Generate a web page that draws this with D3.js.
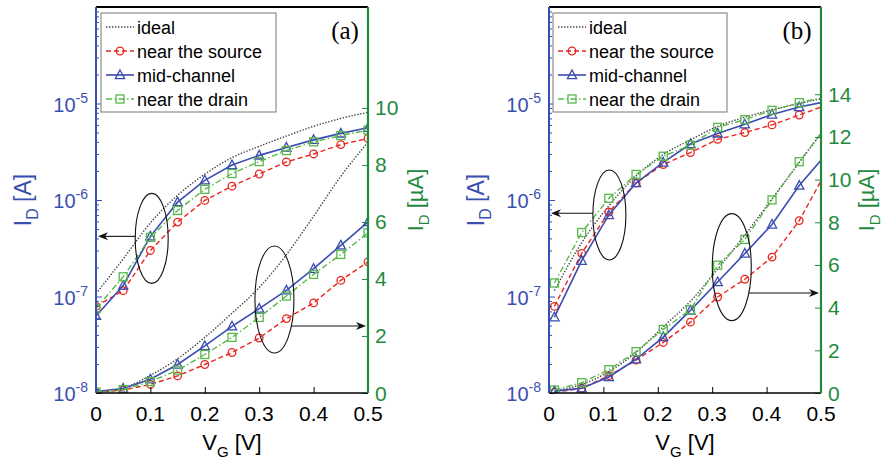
<!DOCTYPE html>
<html><head><meta charset="utf-8">
<script src="https://cdn.jsdelivr.net/npm/d3@7"></script>
<style>body{margin:0;background:#fff}</style>
</head><body>
<svg id="c" width="887" height="461"></svg>
<script>
// ---------------- DATA ----------------
const vgA = [0, 0.05, 0.1, 0.15, 0.2, 0.25, 0.3, 0.35, 0.4, 0.45, 0.5];
const vgB = [0.01, 0.06, 0.11, 0.16, 0.21, 0.26, 0.31, 0.36, 0.41, 0.46, 0.51];

// panel (a) – log scale, I_D in A
const aIdealLog  = [1.07e-7, 2.45e-7, 5.8e-7, 1.12e-6, 1.85e-6, 2.75e-6, 3.6e-6, 4.6e-6, 5.8e-6, 7.0e-6, 8.1e-6];
const aSourceLog = [7.9e-8, 1.15e-7, 3.0e-7, 5.9e-7, 9.9e-7, 1.39e-6, 1.86e-6, 2.48e-6, 3.0e-6, 3.75e-6, 4.35e-6];
const aMidLog    = [6.3e-8, 1.3e-7, 4.2e-7, 9.5e-7, 1.6e-6, 2.3e-6, 2.9e-6, 3.5e-6, 4.2e-6, 4.9e-6, 5.6e-6];
const aDrainLog  = [7.5e-8, 1.6e-7, 4.1e-7, 7.8e-7, 1.29e-6, 1.88e-6, 2.5e-6, 3.25e-6, 4.0e-6, 4.65e-6, 5.3e-6];
// panel (a) – linear scale, I_D in uA
const aIdealLin  = [0.03, 0.17, 0.62, 1.2, 1.95, 2.8, 3.7, 4.85, 6.2, 7.6, 8.8];
const aSourceLin = [0.03, 0.1, 0.3, 0.6, 1.0, 1.42, 1.93, 2.61, 3.16, 3.95, 4.6];
const aMidLin    = [0.05, 0.16, 0.48, 1.0, 1.65, 2.34, 2.96, 3.6, 4.36, 5.18, 6.0];
const aDrainLin  = [0.03, 0.12, 0.4, 0.8, 1.35, 1.95, 2.65, 3.4, 4.16, 4.86, 5.62];

// panel (b) – log scale, I_D in A
const bIdealLog  = [1.15e-7, 3.6e-7, 8.7e-7, 1.77e-6, 2.96e-6, 4.2e-6, 5.8e-6, 7.2e-6, 8.6e-6, 1.0e-5, 1.15e-5];
const bSourceLog = [7.9e-8, 2.8e-7, 7.5e-7, 1.5e-6, 2.33e-6, 3.1e-6, 4.25e-6, 5.0e-6, 6.0e-6, 7.6e-6, 9.6e-6];
const bMidLog    = [6.1e-8, 2.35e-7, 7.0e-7, 1.5e-6, 2.45e-6, 3.8e-6, 4.9e-6, 6.1e-6, 7.7e-6, 9.2e-6, 1.05e-5];
const bDrainLog  = [1.38e-7, 4.6e-7, 1.04e-6, 1.84e-6, 2.84e-6, 3.7e-6, 5.66e-6, 6.8e-6, 8.5e-6, 1.02e-5, 1.17e-5];
// panel (b) – linear scale, I_D in uA
const bIdealLin  = [0.1, 0.4, 1.0, 1.9, 3.1, 4.3, 5.8, 7.4, 9.1, 10.8, 12.5];
const bSourceLin = [0.03, 0.22, 0.81, 1.54, 2.37, 3.32, 4.5, 5.33, 6.37, 8.08, 10.4];
const bMidLin    = [0.09, 0.22, 0.75, 1.58, 2.62, 3.87, 5.2, 6.54, 7.9, 9.72, 11.2];
const bDrainLin  = [0.14, 0.48, 1.09, 1.94, 2.98, 3.9, 5.99, 7.2, 9.05, 10.84, 12.5];

const seriesNames = ["ideal", "near the source", "mid-channel", "near the drain"];
const xTicks = [0, 0.1, 0.2, 0.3, 0.4, 0.5];
const logTickExps = [-8, -7, -6, -5];
const linTicksA = [0, 2, 4, 6, 8, 10];
const linTicksB = [0, 2, 4, 6, 8, 10, 12, 14];
const panelTags = ["(a)", "(b)"];
// annotation ellipses (centre in data units: V_G, and I_D on log [A] or lin [uA] axis)
const annotA = [
  {v: 0.1024, val: 4.0e-7, axis: "log", arrowVal: 4.2e-7, dir: "left"},
  {v: 0.328, val: 3.28, axis: "lin", arrowVal: 2.35, dir: "right"}
];
const annotB = [
  {v: 0.111, val: 7.0e-7, axis: "log", arrowVal: 7.3e-7, dir: "left"},
  {v: 0.336, val: 5.9, axis: "lin", arrowVal: 4.69, dir: "right"}
];

// ---------------- STYLE ----------------
const FONT = "'Liberation Sans', Arial, Helvetica, sans-serif";
const BLUE_AX = "#3a4fb0", GREEN_AX = "#1f8a3e";
const styles = [
  {color: "#444444", dash: "1.4,1.6", marker: null, width: 1.4},
  {color: "#e8261f", dash: "5,3", marker: "circle", width: 1.4},
  {color: "#3a4cb0", dash: null, marker: "triangle", width: 1.6},
  {color: "#58b84a", dash: "6,2.5,1.5,2.5", marker: "square", width: 1.4}
];
const ellSize = [{rx: 16.5, ry: 45}, {rx: 19.5, ry: 53.5}];

const panels = [
  {left: 96, right: 368, top: 7, bottom: 393, vg: vgA, linMax: 13.54, linTicks: linTicksA,
   log: [aIdealLog, aSourceLog, aMidLog, aDrainLog], lin: [aIdealLin, aSourceLin, aMidLin, aDrainLin],
   legend: {x: 101, y: 13, w: 175, h: 99}, tagX: 345, yLabL: 31, yLabR: 423, annot: annotA},
  {left: 549, right: 821, top: 7, bottom: 393, vg: vgB, linMax: 18.09, linTicks: linTicksB,
   log: [bIdealLog, bSourceLog, bMidLog, bDrainLog], lin: [bIdealLin, bSourceLin, bMidLin, bDrainLin],
   legend: {x: 553, y: 13, w: 174, h: 99}, tagX: 797, yLabL: 484, yLabR: 874, annot: annotB}
];

const svg = d3.select("#c");
const defs = svg.append("defs");

function marker(g, type, cx, cy, color) {
  if (type === "circle") {
    g.append("circle").attr("cx", cx).attr("cy", cy).attr("r", 3.8)
      .attr("fill", "none").attr("stroke", color).attr("stroke-width", 1.3);
  } else if (type === "triangle") {
    g.append("path").attr("d", `M${cx},${cy - 5}L${cx + 4.6},${cy + 3.6}L${cx - 4.6},${cy + 3.6}Z`)
      .attr("fill", "none").attr("stroke", color).attr("stroke-width", 1.3);
  } else if (type === "square") {
    g.append("rect").attr("x", cx - 4).attr("y", cy - 4).attr("width", 8).attr("height", 8)
      .attr("fill", "none").attr("stroke", color).attr("stroke-width", 1.3);
  }
}

panels.forEach((p, idx) => {
  const x = d3.scaleLinear().domain([0, 0.5]).range([p.left, p.right]);
  const yL = d3.scaleLog().domain([1e-8, 1e-4]).range([p.bottom, p.top]);
  const yR = d3.scaleLinear().domain([0, p.linMax]).range([p.bottom, p.top]);
  const g = svg.append("g");

  const clipId = "clip" + idx;
  defs.append("clipPath").attr("id", clipId).append("rect")
    .attr("x", p.left).attr("y", p.top).attr("width", p.right - p.left).attr("height", p.bottom - p.top);
  const plot = g.append("g").attr("clip-path", `url(#${clipId})`);

  // series
  styles.forEach((st, i) => {
    [[p.log[i], yL], [p.lin[i], yR]].forEach(([vals, ys]) => {
      const pts = p.vg.map((v, j) => [x(v), ys(vals[j])]);
      const line = d3.line().curve(i === 0 ? d3.curveMonotoneX : d3.curveLinear);
      plot.append("path").attr("d", line(pts)).attr("fill", "none")
        .attr("stroke", st.color).attr("stroke-width", st.width)
        .attr("stroke-dasharray", st.dash);
      if (st.marker) pts.forEach(pt => marker(plot, st.marker, pt[0], pt[1], st.color));
    });
  });

  // ellipses and arrows
  p.annot.forEach((a, k) => {
    const ys = a.axis === "log" ? yL : yR;
    const cx = x(a.v), cy = ys(a.val);
    const {rx, ry} = ellSize[k];
    g.append("ellipse").attr("cx", cx).attr("cy", cy).attr("rx", rx).attr("ry", ry)
      .attr("fill", "none").attr("stroke", "#111").attr("stroke-width", 1.1);
    const ay = ys(a.arrowVal);
    const dx = rx * Math.sqrt(Math.max(0, 1 - ((ay - cy) / ry) ** 2));
    let x0, x1;
    if (a.dir === "left") { x0 = cx - dx; x1 = x(0) + 2; }
    else { x0 = cx + dx; x1 = x(0.5) - 2; }
    const s = a.dir === "left" ? 1 : -1;
    g.append("line").attr("x1", x0).attr("y1", ay).attr("x2", x1 + s * 6).attr("y2", ay)
      .attr("stroke", "#111").attr("stroke-width", 1.1);
    g.append("path").attr("d", `M${x1},${ay}L${x1 + s * 10},${ay - 4}L${x1 + s * 7},${ay}L${x1 + s * 10},${ay + 4}Z`)
      .attr("fill", "#111");
  });

  // axes – left log (blue)
  const minor = [];
  for (let e = -8; e < -4; e++) for (let m = 2; m <= 9; m++) minor.push(m * Math.pow(10, e));
  g.append("g").attr("transform", `translate(${p.left},0)`)
    .call(d3.axisRight(yL).tickValues(minor).tickSize(3).tickFormat(""))
    .call(s => s.select(".domain").remove())
    .selectAll("line").attr("stroke", BLUE_AX).attr("stroke-width", 1);
  g.append("g").attr("transform", `translate(${p.left},0)`)
    .call(d3.axisRight(yL).tickValues(logTickExps.map(e => Math.pow(10, e))).tickSize(6).tickFormat(""))
    .call(s => s.select(".domain").remove())
    .selectAll("line").attr("stroke", BLUE_AX).attr("stroke-width", 1);
  logTickExps.forEach(e => {
    const t = g.append("text").attr("x", p.left - 8).attr("y", yL(Math.pow(10, e)) + 8)
      .attr("text-anchor", "end").attr("font-family", FONT).attr("font-size", 20).attr("fill", BLUE_AX);
    t.append("tspan").text("10");
    t.append("tspan").attr("dy", -9).attr("font-size", 14).text("-" + Math.abs(e));
  });

  // right linear (green)
  g.append("g").attr("transform", `translate(${p.right},0)`)
    .call(d3.axisLeft(yR).tickValues(p.linTicks).tickSize(6).tickFormat(""))
    .call(s => s.select(".domain").remove())
    .selectAll("line").attr("stroke", GREEN_AX).attr("stroke-width", 1);
  p.linTicks.forEach(v => {
    g.append("text").attr("x", p.right + 7).attr("y", yR(v) + 7.5)
      .attr("font-family", FONT).attr("font-size", 21).attr("fill", GREEN_AX).text(v);
  });

  // bottom (black)
  g.append("g").attr("transform", `translate(0,${p.bottom})`)
    .call(d3.axisTop(x).tickValues(xTicks).tickSize(6).tickFormat(""))
    .call(s => s.select(".domain").remove())
    .selectAll("line").attr("stroke", "#000").attr("stroke-width", 1);
  xTicks.forEach(v => {
    g.append("text").attr("x", x(v)).attr("y", p.bottom + 28).attr("text-anchor", "middle")
      .attr("font-family", FONT).attr("font-size", 21).attr("fill", "#000").text(String(v));
  });

  // frame lines
  g.append("line").attr("x1", p.left).attr("x2", p.right).attr("y1", p.top).attr("y2", p.top)
    .attr("stroke", "#000").attr("stroke-width", 2);
  g.append("line").attr("x1", p.left).attr("x2", p.right).attr("y1", p.bottom).attr("y2", p.bottom)
    .attr("stroke", "#000").attr("stroke-width", 1.6);
  g.append("line").attr("x1", p.left).attr("x2", p.left).attr("y1", p.top).attr("y2", p.bottom)
    .attr("stroke", BLUE_AX).attr("stroke-width", 2);
  g.append("line").attr("x1", p.right).attr("x2", p.right).attr("y1", p.top).attr("y2", p.bottom)
    .attr("stroke", GREEN_AX).attr("stroke-width", 2.2);

  // axis labels
  const xl = g.append("text").attr("x", (p.left + p.right) / 2).attr("y", 450).attr("text-anchor", "middle")
    .attr("font-family", FONT).attr("font-size", 22).attr("fill", "#000");
  xl.append("tspan").text("V");
  xl.append("tspan").attr("dy", 7).attr("font-size", 15).text("G");
  xl.append("tspan").attr("dy", -7).text(" [V]");

  const yl = g.append("text").attr("transform", `translate(${p.yLabL},200) rotate(-90)`).attr("text-anchor", "middle")
    .attr("font-family", FONT).attr("font-size", 23).attr("fill", BLUE_AX);
  yl.append("tspan").text("I");
  yl.append("tspan").attr("dy", 7).attr("font-size", 16).text("D");
  yl.append("tspan").attr("dy", -7).text(" [A]");

  const yr = g.append("text").attr("transform", `translate(${p.yLabR},200) rotate(-90)`).attr("text-anchor", "middle")
    .attr("font-family", FONT).attr("font-size", 22).attr("fill", GREEN_AX);
  yr.append("tspan").text("I");
  yr.append("tspan").attr("dy", 6).attr("font-size", 15).text("D");
  yr.append("tspan").attr("dy", -6).text(" [\u00B5A]");

  // legend
  const L = p.legend;
  g.append("rect").attr("x", L.x).attr("y", L.y).attr("width", L.w).attr("height", L.h)
    .attr("fill", "#fff").attr("stroke", "#777").attr("stroke-width", 1);
  styles.forEach((st, i) => {
    const cy = L.y + 14 + i * 24;
    g.append("line").attr("x1", L.x + 5).attr("x2", L.x + 33).attr("y1", cy).attr("y2", cy)
      .attr("stroke", st.color).attr("stroke-width", st.width).attr("stroke-dasharray", st.dash);
    if (st.marker) marker(g, st.marker, L.x + 19, cy, st.color);
    g.append("text").attr("x", L.x + 36).attr("y", cy + 6.5)
      .attr("font-family", FONT).attr("font-size", 18).attr("fill", "#000").text(seriesNames[i]);
  });

  // panel tag
  g.append("text").attr("x", p.tagX).attr("y", 39).attr("text-anchor", "middle")
    .attr("font-family", "'Liberation Serif', 'Times New Roman', serif").attr("font-size", 25)
    .attr("fill", "#000").text(panelTags[idx]);
});
</script>
</body></html>
